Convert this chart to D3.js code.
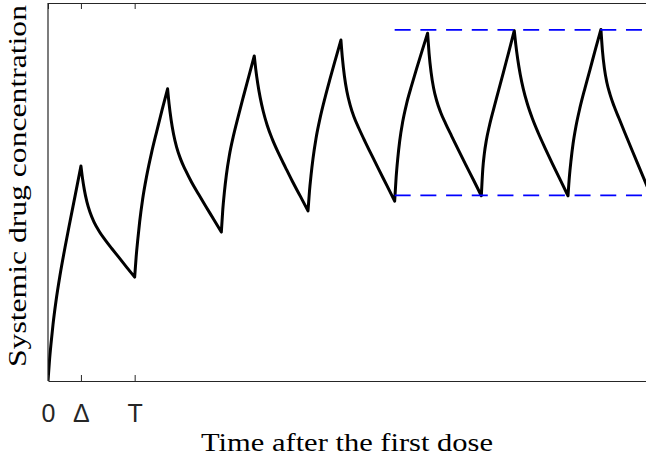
<!DOCTYPE html>
<html><head><meta charset="utf-8">
<script src="https://cdn.jsdelivr.net/npm/d3@7"></script>
<style>body{margin:0;background:#fff;} svg{display:block;}</style>
</head><body><svg id="c" width="646" height="461"></svg>
<script>
// Time in units of the dosing period T (infusion lasts Δ = 0.38 T); concentration in arbitrary units
const time = [
  0, 0.017, 0.035, 0.058, 0.092, 0.138, 0.196, 0.254, 0.317, 0.380,
  0.397, 0.420, 0.449, 0.484, 0.530, 0.588, 0.657, 0.738, 0.818, 0.911, 1.000,
  1.017, 1.035, 1.058, 1.092, 1.138, 1.196, 1.254, 1.317, 1.380,
  1.397, 1.420, 1.449, 1.484, 1.530, 1.588, 1.657, 1.738, 1.818, 1.911, 2.000,
  2.017, 2.035, 2.058, 2.092, 2.138, 2.196, 2.254, 2.317, 2.380,
  2.397, 2.420, 2.449, 2.484, 2.530, 2.588, 2.657, 2.738, 2.818, 2.911, 3.000,
  3.017, 3.035, 3.058, 3.092, 3.138, 3.196, 3.254, 3.317, 3.380,
  3.397, 3.420, 3.449, 3.484, 3.530, 3.588, 3.657, 3.738, 3.818, 3.911, 4.000,
  4.017, 4.035, 4.058, 4.092, 4.138, 4.196, 4.254, 4.317, 4.380,
  4.397, 4.420, 4.449, 4.484, 4.530, 4.588, 4.657, 4.738, 4.818, 4.911, 5.000,
  5.017, 5.035, 5.058, 5.092, 5.138, 5.196, 5.254, 5.317, 5.380,
  5.397, 5.420, 5.449, 5.484, 5.530, 5.588, 5.657, 5.738, 5.818, 5.911, 6.000,
  6.017, 6.035, 6.058, 6.092, 6.138, 6.196, 6.254, 6.317, 6.380,
  6.397, 6.420, 6.449, 6.484, 6.530, 6.588, 6.657, 6.738, 6.818, 6.911
];
const concentration = [
  0, 0.054, 0.099, 0.150, 0.211, 0.279, 0.353, 0.422, 0.495, 0.569,
  0.538, 0.505, 0.474, 0.447, 0.421, 0.397, 0.374, 0.350, 0.327, 0.300, 0.275,
  0.328, 0.372, 0.422, 0.481, 0.542, 0.605, 0.660, 0.718, 0.773,
  0.733, 0.692, 0.653, 0.619, 0.587, 0.557, 0.526, 0.494, 0.463, 0.428, 0.394,
  0.454, 0.499, 0.545, 0.596, 0.647, 0.701, 0.752, 0.806, 0.860,
  0.825, 0.787, 0.749, 0.713, 0.676, 0.640, 0.604, 0.566, 0.529, 0.489, 0.450,
  0.502, 0.544, 0.589, 0.641, 0.694, 0.749, 0.799, 0.851, 0.902,
  0.854, 0.807, 0.766, 0.732, 0.699, 0.668, 0.634, 0.596, 0.559, 0.517, 0.476,
  0.539, 0.587, 0.635, 0.685, 0.734, 0.782, 0.827, 0.874, 0.920,
  0.867, 0.817, 0.775, 0.742, 0.711, 0.681, 0.648, 0.610, 0.573, 0.531, 0.490,
  0.561, 0.602, 0.637, 0.674, 0.716, 0.766, 0.816, 0.871, 0.927,
  0.891, 0.851, 0.811, 0.773, 0.734, 0.695, 0.656, 0.615, 0.576, 0.532, 0.490,
  0.543, 0.584, 0.627, 0.674, 0.723, 0.775, 0.824, 0.878, 0.930,
  0.875, 0.827, 0.789, 0.759, 0.728, 0.695, 0.656, 0.611, 0.567, 0.516
];
const tickValues = [0, 0.38, 1];
const tickLabels = ["0", "\u0394", "T"];
const steadyPeak = 0.929;
const steadyTrough = 0.491;
const steadyStart = 4.0;
const xLabel = "Time after the first dose";
const yLabel = "Systemic drug concentration";

const svg = d3.select("#c");
const L = 48, R = 646, Tp = 3, B = 381;
const x = d3.scaleLinear().domain([0, 6.9]).range([L, R]);
const y = d3.scaleLinear().domain([0, 1]).range([B, Tp]);

svg.append("defs").append("clipPath").attr("id", "clip")
  .append("rect").attr("x", L).attr("y", Tp - 2).attr("width", R - L + 5).attr("height", B - Tp + 2);

// Split data into monotone pieces (rise / decay) so that cusps stay sharp
const pts = time.map((t, i) => [t, concentration[i]]);
const segs = [];
let cur = [pts[0]];
let dir = 0;
for (let i = 1; i < pts.length; i++) {
  const d = Math.sign(pts[i][1] - pts[i - 1][1]);
  if (dir !== 0 && d !== dir) { segs.push(cur); cur = [pts[i - 1]]; }
  cur.push(pts[i]); dir = d;
}
segs.push(cur);

const p = d3.path();
let started = false;
const ctx = {
  moveTo(a, b) { if (!started) { p.moveTo(a, b); started = true; } },
  lineTo(a, b) { p.lineTo(a, b); },
  bezierCurveTo(a, b, c, d, e, f) { p.bezierCurveTo(a, b, c, d, e, f); },
  closePath() { p.closePath(); }
};
const line = d3.line().x(d => x(d[0])).y(d => y(d[1])).curve(d3.curveMonotoneX).context(ctx);
segs.forEach(s => line(s));

const plot = svg.append("g").attr("clip-path", "url(#clip)");
plot.append("path").attr("d", p.toString())
  .attr("fill", "none").attr("stroke", "#000").attr("stroke-width", 3)
  .attr("stroke-linejoin", "round").attr("stroke-linecap", "round");

[steadyPeak, steadyTrough].forEach(v => {
  plot.append("line")
    .attr("x1", x(steadyStart)).attr("x2", R + 10)
    .attr("y1", y(v)).attr("y2", y(v))
    .attr("stroke", "#0000ff").attr("stroke-width", 1.6)
    .attr("stroke-dasharray", "16,9.7");
});

// axes
const axCol = "#262626";
const gb = svg.append("g").attr("transform", `translate(0,${B})`)
  .call(d3.axisBottom(x).tickValues(tickValues).tickFormat((d, i) => tickLabels[i])
    .tickSizeInner(-6).tickSizeOuter(0).tickPadding(0));
gb.select(".domain").attr("stroke", axCol).attr("stroke-width", 1.2);
gb.selectAll(".tick line").attr("stroke", axCol).attr("stroke-width", 1);
gb.selectAll(".tick text").attr("y", 40.7).attr("dy", null)
  .attr("font-family", "'Liberation Sans', Arial, Helvetica, sans-serif")
  .attr("font-size", 25).attr("fill", axCol);

const gt = svg.append("g").attr("transform", `translate(0,${Tp})`)
  .call(d3.axisTop(x).tickValues(tickValues).tickFormat(() => "")
    .tickSizeInner(-6).tickSizeOuter(0));
gt.select(".domain").attr("stroke", axCol).attr("stroke-width", 1.2);
gt.selectAll(".tick line").attr("stroke", axCol).attr("stroke-width", 1);

svg.append("line").attr("x1", L).attr("x2", L).attr("y1", Tp).attr("y2", B)
  .attr("stroke", axCol).attr("stroke-width", 1.2);

// labels
svg.append("text").attr("x", 347).attr("y", 451)
  .attr("text-anchor", "middle")
  .attr("font-family", "'Liberation Serif', 'Times New Roman', serif")
  .attr("font-size", 25).attr("fill", "#000")
  .attr("textLength", 292).attr("lengthAdjust", "spacingAndGlyphs")
  .text(xLabel);

svg.append("text").attr("transform", "translate(26,186) rotate(-90)")
  .attr("text-anchor", "middle")
  .attr("font-family", "'Liberation Serif', 'Times New Roman', serif")
  .attr("font-size", 25).attr("fill", "#000")
  .attr("textLength", 362).attr("lengthAdjust", "spacingAndGlyphs")
  .text(yLabel);
</script>
</body></html>
